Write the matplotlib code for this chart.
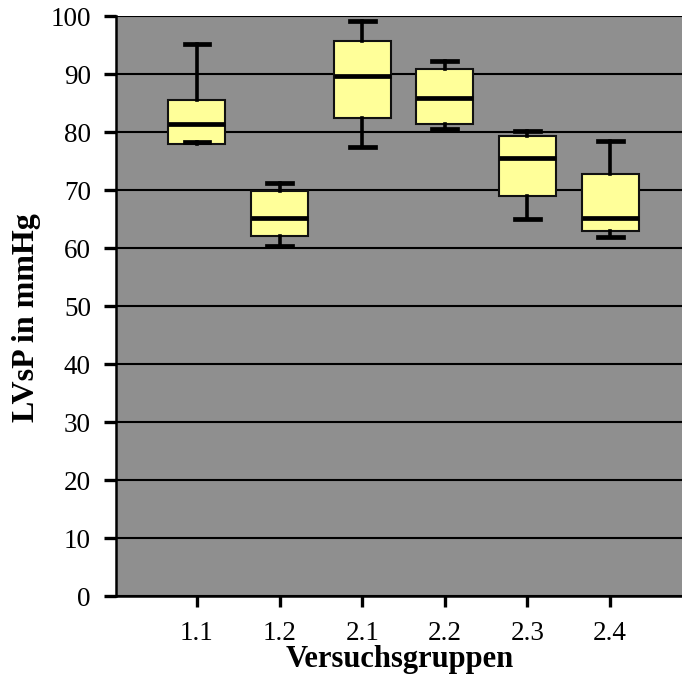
import matplotlib
matplotlib.use("Agg")
import matplotlib.pyplot as plt

groups = ["1.1", "1.2", "2.1", "2.2", "2.3", "2.4"]
whisker_low = [78.2, 60.3, 77.5, 80.5, 65.0, 61.9]
q1 = [78.0, 62.1, 82.5, 81.4, 69.0, 62.9]
median = [81.4, 65.1, 89.7, 85.9, 75.6, 65.1]
q3 = [85.5, 69.9, 95.7, 90.9, 79.3, 72.7]
whisker_high = [95.1, 71.2, 99.2, 92.2, 80.2, 78.4]
y_ticks = [0, 10, 20, 30, 40, 50, 60, 70, 80, 90, 100]

plt.rcParams['font.family'] = ['Liberation Serif', 'DejaVu Serif']

fig = plt.figure(figsize=(6.82, 6.78), dpi=100)
ax = fig.add_axes([116/682, 82/678, 1 - 116/682, (596-16)/678])
ax.set_facecolor('#8f8f8f')

stats = []
for i, g in enumerate(groups):
    stats.append(dict(label=g, whislo=whisker_low[i], q1=q1[i], med=median[i],
                      q3=q3[i], whishi=whisker_high[i], fliers=[]))

positions = list(range(1, len(groups) + 1))
ax.bxp(stats, positions=positions, widths=0.69, patch_artist=True, showfliers=False,
       boxprops=dict(facecolor='#ffff99', edgecolor='#111111', linewidth=1.5),
       medianprops=dict(color='black', linewidth=3.4),
       whiskerprops=dict(color='black', linewidth=2.6),
       capprops=dict(color='black', linewidth=3.4),
       capwidths=0.30, zorder=3)

ax.set_xlim(0.02, 6.87)
ax.set_ylim(0, 100)
ax.set_yticks(y_ticks)
ax.set_xticks(positions)
ax.set_xticklabels(groups)
ax.yaxis.grid(True, color='black', linewidth=1.5, zorder=1)
ax.set_axisbelow(True)

for s in ['top', 'right']:
    ax.spines[s].set_visible(False)
ax.spines['left'].set_linewidth(1.8)
ax.spines['bottom'].set_linewidth(1.8)
ax.tick_params(axis='y', direction='out', length=9, width=2.4, pad=9, labelsize=19.5)
ax.tick_params(axis='x', direction='out', length=8, width=2.4, pad=10, labelsize=19.5)

fig.text(27/682, (678-318)/678, "LVsP in mmHg", rotation=90, ha='center', va='center',
         fontsize=23, fontweight='bold')
fig.text(400/682, (678-660)/678, "Versuchsgruppen", ha='center', va='center',
         fontsize=22, fontweight='bold')

fig.savefig("out.png", dpi=100)
